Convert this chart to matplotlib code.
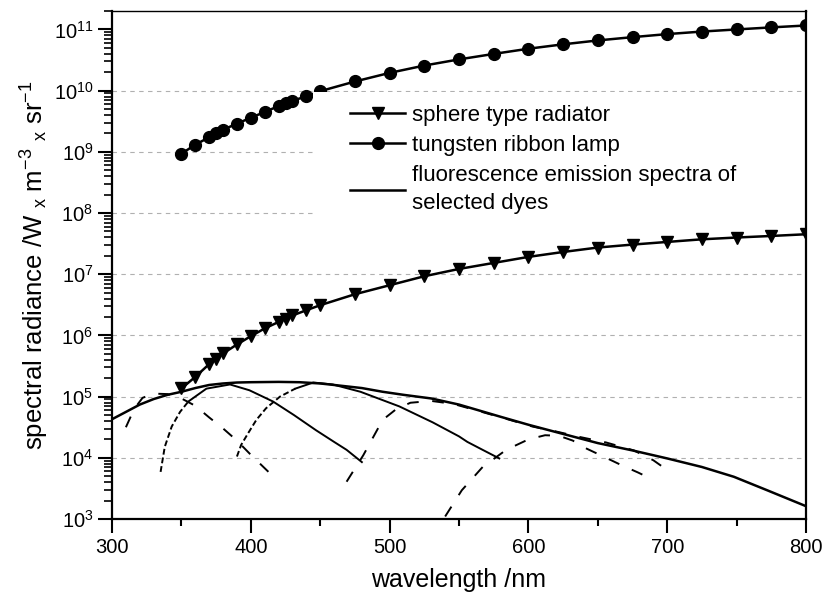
import matplotlib
matplotlib.use("Agg")
import matplotlib.pyplot as plt
from matplotlib.ticker import MultipleLocator, LogLocator, NullFormatter
from matplotlib.patches import Rectangle

plt.rcParams['font.family'] = ['Liberation Sans', 'DejaVu Sans']
plt.rcParams['mathtext.fontset'] = 'custom'
plt.rcParams['mathtext.rm'] = 'Liberation Sans'
plt.rcParams['mathtext.it'] = 'Liberation Sans:italic'

# wavelengths of the calibration standards (nm)
wl_std = [350, 360, 370, 375, 380, 390, 400, 410, 420, 425, 430, 440, 450,
          475, 500, 525, 550, 575, 600, 625, 650, 675, 700, 725, 750, 775, 800]
sphere = [1.36e5, 2.10e5, 3.40e5, 4.14e5, 5.07e5, 7.11e5, 9.72e5, 1.30e6, 1.66e6,
          1.89e6, 2.12e6, 2.58e6, 3.12e6, 4.71e6, 6.61e6, 9.27e6, 1.22e7, 1.53e7,
          1.92e7, 2.31e7, 2.73e7, 3.05e7, 3.37e7, 3.72e7, 3.98e7, 4.22e7, 4.50e7]
lamp = [9.3e8, 1.31e9, 1.73e9, 2.03e9, 2.30e9, 2.88e9, 3.61e9, 4.47e9, 5.60e9,
        6.17e9, 6.85e9, 8.05e9, 9.8e9, 1.41e10, 1.95e10, 2.57e10, 3.24e10, 3.98e10,
        4.84e10, 5.71e10, 6.61e10, 7.48e10, 8.39e10, 9.23e10, 1.0e11, 1.08e11, 1.16e11]

# solid envelope curve
env_wl = [300, 310, 320, 330, 340, 350, 360, 370, 380, 390, 400, 420, 435, 450, 460,
          480, 495, 510, 530, 550, 565, 580, 600, 620, 650, 675, 700, 725, 748, 772, 800]
env_val = [4.27e4, 5.62e4, 7.41e4, 9.12e4, 1.07e5, 1.20e5, 1.38e5, 1.55e5, 1.64e5,
           1.70e5, 1.72e5, 1.74e5, 1.72e5, 1.64e5, 1.55e5, 1.38e5, 1.20e5, 1.07e5,
           9.33e4, 7.41e4, 5.89e4, 4.68e4, 3.47e4, 2.63e4, 1.74e4, 1.32e4, 9.77e3,
           7.08e3, 4.90e3, 2.95e3, 1.62e3]

# dye spectra
dyeA_wl = [310, 316, 322, 330, 340, 350, 360, 370, 380, 390, 400, 410, 415]
dyeA_val = [3.16e4, 6.31e4, 9.55e4, 1.12e5, 1.10e5, 9.33e4, 7.08e4, 4.57e4, 3.02e4,
            1.91e4, 1.12e4, 6.76e3, 5.25e3]

dyeB_rise_wl = [335, 338, 343, 349, 355]
dyeB_rise_val = [5.89e3, 1.51e4, 3.24e4, 5.62e4, 8.32e4]
dyeB_fall_wl = [355, 368, 385, 399, 416, 431, 447, 460, 469, 480]
dyeB_fall_val = [8.32e4, 1.35e5, 1.58e5, 1.27e5, 8.32e4, 5.01e4, 2.82e4, 1.82e4,
                 1.35e4, 8.51e3]

dyeC_rise_wl = [390, 393, 398, 404, 411, 421, 432]
dyeC_rise_val = [1.05e4, 1.62e4, 2.51e4, 4.17e4, 6.46e4, 1.00e5, 1.35e5]
dyeC_fall_wl = [432, 445, 459, 479, 507, 531, 550, 556, 567, 579]
dyeC_fall_val = [1.35e5, 1.70e5, 1.58e5, 1.20e5, 6.92e4, 3.80e4, 2.24e4, 1.82e4,
                 1.35e4, 9.77e3]

dyeD_wl = [469, 481, 495, 505, 515, 530, 546, 565, 585, 603, 620, 637, 656, 676, 690, 700]
dyeD_val = [4.07e3, 1.10e4, 4.17e4, 6.31e4, 7.94e4, 8.51e4, 7.59e4, 5.75e4, 4.27e4,
            3.24e4, 2.69e4, 2.19e4, 1.78e4, 1.32e4, 9.12e3, 6.31e3]

dyeE_wl = [540, 552, 567, 584, 600, 612, 622, 632, 642, 654, 667, 679, 689]
dyeE_val = [1.10e3, 2.95e3, 7.08e3, 1.35e4, 2.00e4, 2.34e4, 2.29e4, 1.91e4, 1.41e4,
            1.05e4, 7.59e3, 5.75e3, 4.47e3]

fig = plt.figure(figsize=(8.23, 5.95), dpi=100)
ax = fig.add_axes([0.1361, 0.1277, 0.8433, 0.8538])

lw_dye = 1.4
long_dash = (6, 7)
fine_dash = (3, 1.5)
ax.plot(dyeA_wl, dyeA_val, color='black', lw=lw_dye, dashes=long_dash)
ax.plot(dyeB_rise_wl, dyeB_rise_val, color='black', lw=lw_dye, dashes=fine_dash)
ax.plot(dyeB_fall_wl, dyeB_fall_val, color='black', lw=lw_dye)
ax.plot(dyeC_rise_wl, dyeC_rise_val, color='black', lw=lw_dye, dashes=fine_dash)
ax.plot(dyeC_fall_wl, dyeC_fall_val, color='black', lw=lw_dye)
ax.plot(dyeD_wl, dyeD_val, color='black', lw=lw_dye, dashes=long_dash)
ax.plot(dyeE_wl, dyeE_val, color='black', lw=lw_dye, dashes=long_dash)
env_line, = ax.plot(env_wl, env_val, color='black', lw=1.8)

sph_line, = ax.plot(wl_std, sphere, color='black', lw=1.8, marker='v', ms=9)
lamp_line, = ax.plot(wl_std, lamp, color='black', lw=1.8, marker='o', ms=8.5)

ax.set_yscale('log')
ax.set_xlim(300, 800)
ax.set_ylim(1e3, 2e11)
ax.xaxis.set_major_locator(MultipleLocator(100))
ax.xaxis.set_minor_locator(MultipleLocator(50))
ax.yaxis.set_major_locator(LogLocator(base=10, numticks=20))
ax.yaxis.set_minor_locator(LogLocator(base=10, subs=range(2, 10), numticks=20))
ax.yaxis.set_minor_formatter(NullFormatter())

ax.tick_params(axis='both', which='major', direction='out', length=10, width=1.5,
               labelsize=14.5, top=False, right=False)
ax.tick_params(axis='x', which='minor', direction='out', length=5, width=1.5)
ax.tick_params(axis='y', which='minor', direction='out', length=6, width=1.2)

for s in ['left', 'bottom', 'right']:
    ax.spines[s].set_linewidth(1.6)
ax.spines['top'].set_linewidth(1.0)

ax.yaxis.grid(True, which='major', color='#b0b0b0', ls=(0, (4, 4)), lw=0.8)
ax.set_axisbelow(True)
for gl, t in zip(ax.yaxis.get_gridlines(), ax.get_yticks()):
    if t <= 1e3 or t >= 1e11:
        gl.set_visible(False)

ax.set_xlabel('wavelength /nm', fontsize=18, labelpad=8)
ax.set_ylabel(r'spectral radiance /W $_{\mathrm{x}}$ m$^{-3}$ $_{\mathrm{x}}$ sr$^{-1}$',
              fontsize=18.5, labelpad=2)

# white area behind the legend
ax.add_patch(Rectangle((0.29, 0.59), 0.705, 0.25, transform=ax.transAxes,
                       facecolor='white', edgecolor='none', zorder=4))
leg = ax.legend([sph_line, lamp_line, env_line],
                ['sphere type radiator', 'tungsten ribbon lamp',
                 'fluorescence emission spectra of\nselected dyes'],
                loc='upper left', bbox_to_anchor=(0.325, 0.84), fontsize=16,
                frameon=False, handlelength=2.5, handletextpad=0.3,
                labelspacing=0.42, borderpad=0.55, borderaxespad=0)
for t in leg.get_texts():
    t.set_linespacing(1.4)
leg.set_zorder(5)

fig.savefig('out.png', dpi=100)
